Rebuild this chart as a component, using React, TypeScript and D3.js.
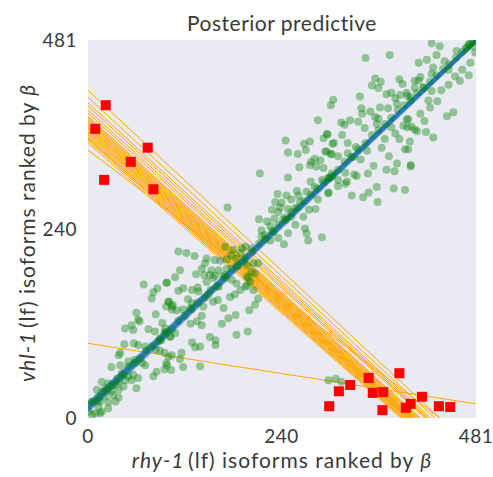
import React from 'react';
import * as d3 from 'd3';

// ─── data ────────────────────────────────────────────────────

const axisMax = 481;
const tickValues = [0, 240, 481];

// green scatter: posterior predictive samples
const greenX = [
  69, 86, 97, 81, 79, 100, 97, 105, 104, 60, 84, 62, 64, 54, 46, 56, 75, 83, 92, 95,
  89, 102, 91, 57, 45, 62, 71, 84, 89, 40, 95, 38, 104, 50, 58, 67, 97, 40, 29, 71,
  95, 103, 85, 42, 50, 56, 62, 81, 46, 38, 54, 17, 25, 34, 44, 11, 21, 29, 38, 60,
  13, 21, 31, 38, 5, 15, 25, 34, 13, 25, 1, 9, 17, 5, 15,
  173, 112, 122, 132, 147, 157, 164, 172, 145, 141, 153, 162, 172, 184, 114, 134, 144, 151, 158, 168,
  108, 178, 199, 98, 147, 155, 118, 112, 129, 136, 137, 162, 184, 195, 189, 197, 149, 161, 176, 182,
  124, 129, 100, 104, 110, 118, 127, 143, 155, 168, 141, 200, 207, 183, 174, 127, 135, 141, 166, 96,
  108, 102, 151, 158, 158, 129, 133, 139, 184, 198, 116, 114, 100, 98, 118, 139, 170, 180, 189, 191,
  170, 193, 203, 178, 184, 197, 205, 201, 205,
  285, 296, 292, 303, 275, 268, 245, 248, 270, 260, 281, 288, 277, 294, 301, 283, 292, 275, 262, 213,
  248, 276, 290, 298, 303, 259, 271, 281, 235, 246, 261, 298, 232, 240, 252, 263, 285, 228, 238, 248,
  257, 274, 282, 212, 222, 231, 242, 252, 267, 257, 226, 215, 219, 230, 236, 248, 269, 271, 290, 273,
  243, 226, 215, 195, 203, 211, 197, 207, 211,
  344, 374, 356, 363, 352, 360, 386, 390, 405, 370, 376, 387, 381, 396, 383, 337, 304, 301, 339, 362,
  372, 350, 340, 356, 360, 335, 325, 314, 318, 343, 358, 395, 391, 396, 405, 376, 381, 386, 368, 315,
  297, 305, 322, 332, 346, 364, 393, 296, 302, 310, 322, 329, 338, 373, 383, 354, 370, 380, 400, 319,
  302, 333, 347, 310, 321, 298, 310, 319, 358, 379, 393, 348, 327, 341, 359, 298,
  426, 436, 432, 410, 420, 442, 457, 472, 480, 474, 464, 472, 461, 455, 447, 428, 426, 412, 410, 405,
  395, 400, 426, 438, 447, 416, 422, 433, 424, 445, 453, 412, 417, 397, 401, 408, 419, 428, 399, 397,
  400,
  5, 12, 18, 24, 30, 36, 44, 50, 58, 65, 72, 80, 88, 96, 104, 112, 120, 128, 136, 145,
  152, 160, 170, 178, 186, 195, 204, 212, 220, 228, 236, 245, 252, 260, 268, 276, 284, 292, 300, 310,
  318, 326, 335, 344, 352, 360, 368, 376, 384, 392, 400, 408, 416, 424, 432, 440, 448, 456, 464, 470,
  476, 479, 473, 468, 477,
  298, 307, 314, 236, 245, 330,
];
const greenY = [
  170, 165, 172, 160, 152, 148, 142, 144, 138, 134, 132, 125, 123, 118, 114, 112, 113, 110, 121, 109,
  101, 103, 99, 95, 94, 93, 91, 87, 86, 83, 83, 80, 80, 72, 74, 70, 70, 67, 65, 67,
  62, 61, 59, 57, 53, 55, 51, 53, 48, 46, 48, 46, 44, 42, 40, 36, 38, 34, 36, 38,
  27, 27, 29, 26, 21, 21, 20, 21, 14, 12, 8, 6, 8, 4, 6,
  268, 212, 210, 206, 203, 201, 200, 202, 197, 190, 188, 188, 190, 193, 188, 183, 182, 182, 181, 180,
  179, 176, 178, 172, 173, 178, 165, 162, 163, 166, 161, 167, 171, 167, 163, 169, 157, 150, 154, 157,
  151, 146, 148, 142, 137, 138, 140, 142, 148, 140, 130, 137, 144, 131, 127, 120, 123, 118, 120, 114,
  108, 104, 103, 99, 93, 96, 90, 91, 106, 110, 83, 75, 78, 67, 65, 66, 182, 214, 210, 216,
  218, 199, 186, 207, 203, 195, 197, 173, 163,
  379, 361, 356, 349, 352, 349, 353, 338, 341, 336, 330, 328, 326, 339, 336, 320, 318, 322, 319, 311,
  306, 301, 303, 305, 308, 289, 288, 294, 285, 283, 283, 286, 275, 274, 278, 275, 278, 265, 268, 266,
  267, 265, 266, 253, 250, 254, 253, 256, 256, 246, 244, 239, 233, 237, 229, 235, 241, 235, 230, 226,
  221, 226, 231, 218, 216, 197, 180, 184, 152,
  458, 462, 432, 428, 423, 420, 431, 425, 429, 412, 414, 411, 407, 410, 400, 409, 405, 398, 394, 395,
  394, 390, 387, 383, 381, 377, 379, 376, 373, 369, 374, 380, 372, 370, 367, 370, 362, 355, 355, 360,
  361, 350, 350, 345, 340, 344, 342, 339, 336, 333, 337, 332, 329, 333, 324, 321, 316, 314, 320, 312,
  311, 308, 311, 303, 301, 305, 295, 298, 294, 292, 290, 287, 283, 281, 275, 287,
  477, 473, 462, 452, 456, 454, 467, 475, 465, 452, 443, 436, 429, 435, 443, 446, 438, 434, 429, 420,
  414, 408, 416, 417, 424, 421, 404, 403, 395, 384, 389, 387, 378, 380, 371, 365, 364, 357, 352, 342,
  322,
  20, 22, 33, 36, 42, 50, 55, 66, 70, 76, 86, 92, 98, 108, 113, 124, 130, 138, 147, 153,
  163, 168, 178, 190, 194, 204, 212, 222, 228, 238, 246, 252, 262, 268, 276, 284, 292, 300, 306, 316,
  326, 332, 342, 350, 360, 366, 374, 382, 392, 398, 404, 414, 420, 428, 436, 444, 450, 458, 466, 472,
  478, 480, 476, 470, 473,
  48, 50, 46, 262, 255, 310,
];

// red squares: observed outliers
const redX = [22, 9, 74, 53, 20, 81, 299, 311, 325, 348, 353, 366, 365, 386, 394, 400, 414, 435, 449];
const redY = [398, 368, 344, 326, 303, 291, 15, 34, 42, 51, 32, 33, 10, 57, 13, 18, 27, 15, 14];

// orange regression lines: y at x=0 and x where y=0
const orangeLeftY = [
  417, 408, 401, 397, 392, 388, 384, 382, 380, 378, 377, 375, 373, 372, 370, 369, 367, 365,
  364, 362, 360, 358, 356, 355, 353, 350, 341,
];
const orangeBottomX = [
  436, 430, 425, 422, 420, 418, 412, 410, 409, 407, 405, 404, 403, 402, 401, 400, 399, 398,
  397, 396, 395, 394, 392, 391, 390, 388, 436,
];
// the one shallow orange line: y at x=0 and at x=481
const shallowY = [95, 18];

// blue identity-like lines
const blueIntercepts = [9, 11, 12, 13, 14, 15, 16, 18];
const blueSlopes = [0.977, 0.975, 0.973, 0.971, 0.970, 0.968, 0.966, 0.962];

// ─── layout ──────────────────────────────────────────────────

const W = 493;
const H = 477;
const margin = { left: 88, right: 17, top: 40, bottom: 59 };
const font = 'Lato, "Open Sans", sans-serif';
const textColor = '#3a3a3a';

export default function App() {
  const x = d3.scaleLinear().domain([0, axisMax]).range([margin.left, W - margin.right]);
  const y = d3.scaleLinear().domain([0, axisMax]).range([H - margin.bottom, margin.top]);
  const line = d3.line<[number, number]>().x(d => x(d[0])).y(d => y(d[1]));

  const pw = x(axisMax) - x(0);
  const ph = y(0) - y(axisMax);
  const cx = (x(0) + x(axisMax)) / 2;
  const cy = (y(0) + y(axisMax)) / 2;

  return (
    <svg width={W} height={H} style={{ position: 'absolute', left: 0, top: 0, background: '#fff' }}>
      <defs>
        <clipPath id="plot">
          <rect x={x(0)} y={y(axisMax)} width={pw} height={ph} />
        </clipPath>
      </defs>

      <rect x={x(0)} y={y(axisMax)} width={pw} height={ph} fill="#eaeaf2" />

      <g clipPath="url(#plot)">
        {/* orange lines */}
        {orangeLeftY.map((ly, i) => (
          <path key={'o' + i} d={line([[0, ly], [orangeBottomX[i], 0]]) ?? ''}
            stroke="#ffa500" strokeWidth={1} fill="none" />
        ))}
        <path d={line([[0, shallowY[0]], [axisMax, shallowY[1]]]) ?? ''}
          stroke="#ffa500" strokeWidth={1} fill="none" />

        {/* blue lines */}
        {blueIntercepts.map((b, i) => (
          <path key={'b' + i} d={line([[0, b], [axisMax, b + blueSlopes[i] * axisMax]]) ?? ''}
            stroke="#2f78d2" strokeWidth={3.5} strokeOpacity={0.6} fill="none" />
        ))}

        {/* green points */}
        {greenX.map((gx, i) => (
          <circle key={'g' + i} cx={x(gx)} cy={y(greenY[i])} r={4}
            fill="#008000" fillOpacity={0.38} />
        ))}

        {/* red squares */}
        {redX.map((rx, i) => (
          <rect key={'r' + i} x={x(rx) - 5} y={y(redY[i]) - 5} width={10} height={10} fill="#ff0000" />
        ))}
      </g>

      {/* ticks */}
      {tickValues.map(t => (
        <text key={'xt' + t} x={x(t)} y={y(0) + 25} textAnchor="middle"
          fontFamily={font} fontSize={19} fill={textColor} letterSpacing={0.5}>{t}</text>
      ))}
      {tickValues.map(t => (
        <text key={'yt' + t} x={x(0) - 11} y={y(t) + 7} textAnchor="end"
          fontFamily={font} fontSize={19} fill={textColor} letterSpacing={0.5}>{t}</text>
      ))}

      {/* title */}
      <text x={cx} y={31} textAnchor="middle" fontFamily={font} fontSize={21}
        fill={textColor} letterSpacing={0.5}>
        Posterior predictive
      </text>

      {/* axis labels */}
      <text x={cx} y={468} textAnchor="middle" fontFamily={font} fontSize={21}
        fill={textColor} letterSpacing={1}>
        <tspan fontStyle="italic">rhy-1</tspan>
        <tspan>{'\u2009(lf) isoforms ranked by '}</tspan>
        <tspan fontStyle="italic">β</tspan>
      </text>
      <text transform={`translate(35,${cy + 4}) rotate(-90)`} textAnchor="middle"
        fontFamily={font} fontSize={21} fill={textColor} letterSpacing={1}>
        <tspan fontStyle="italic">vhl-1</tspan>
        <tspan>{'\u2009(lf) isoforms ranked by '}</tspan>
        <tspan fontStyle="italic">β</tspan>
      </text>
    </svg>
  );
}
